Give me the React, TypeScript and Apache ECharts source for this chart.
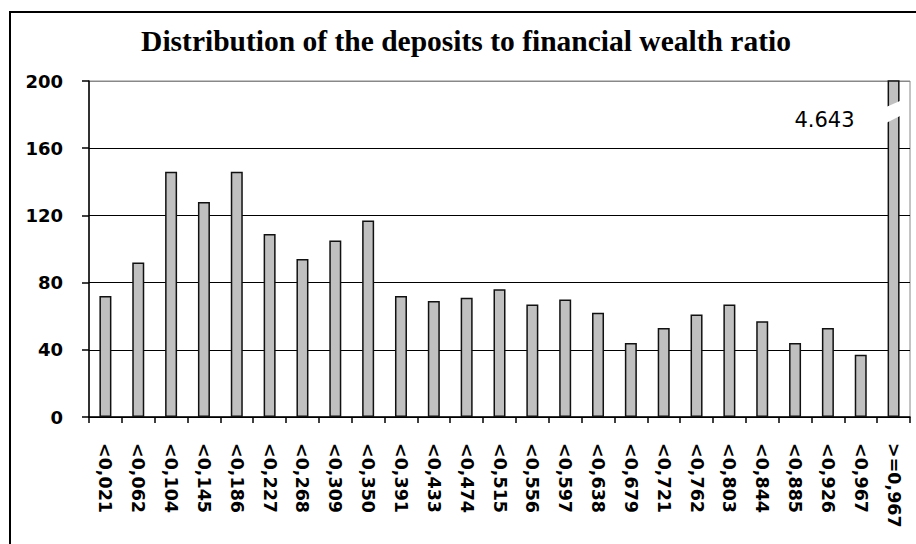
import React, { useEffect, useRef } from "react";
import * as echarts from "echarts";

const titleText = "Distribution of the deposits to financial wealth ratio";

const categories = [
  "<0,021", "<0,062", "<0,104", "<0,145", "<0,186", "<0,227", "<0,268",
  "<0,309", "<0,350", "<0,391", "<0,433", "<0,474", "<0,515", "<0,556",
  "<0,597", "<0,638", "<0,679", "<0,721", "<0,762", "<0,803", "<0,844",
  "<0,885", "<0,926", "<0,967", ">=0,967",
];

const counts = [
  72, 92, 146, 128, 146, 109, 94, 105, 117, 72, 69, 71, 76, 67, 70, 62, 44,
  53, 61, 67, 57, 44, 53, 37, 4643,
];

const yMin = 0;
const yMax = 200;
const yInterval = 40;
const breakValue = 182;

const fmt = (v: number) => String(v).replace(/\B(?=(\d{3})+(?!\d))/g, ".");

export default function App() {
  const ref = useRef<HTMLDivElement>(null);

  useEffect(() => {
    document.body.style.margin = "0";
    if (!ref.current) return;
    const chart = echarts.init(ref.current, undefined, { renderer: "svg" });
    const lastIdx = counts.length - 1;

    const seriesData = counts.map((v, i) =>
      i === lastIdx && v > yMax
        ? {
            value: v,
            label: {
              show: true,
              position: [-33, 40],
              align: "right",
              verticalAlign: "middle",
              formatter: (p: any) => fmt(p.value),
              fontFamily: "DejaVu Sans, Verdana, sans-serif",
              fontSize: 21,
              color: "#000",
            },
          }
        : v
    );

    chart.setOption({
      animation: false,
      backgroundColor: "#fff",
      title: {
        text: titleText,
        left: 461,
        top: 21,
        textAlign: "center",
        textStyle: {
          fontFamily: "Liberation Serif, Times New Roman, serif",
          fontWeight: "bold",
          fontSize: 29.5,
          color: "#000",
        },
      },
      grid: {
        left: 89,
        right: 6,
        top: 81,
        bottom: 127,
        show: true,
        borderColor: "#888",
        borderWidth: 1,
        backgroundColor: "transparent",
      },
      xAxis: {
        type: "category",
        data: categories,
        boundaryGap: true,
        axisLine: { lineStyle: { color: "#000", width: 1.5 } },
        axisTick: { show: true, alignWithLabel: false, length: 6, lineStyle: { color: "#000", width: 1.5 } },
        axisLabel: {
          interval: 0,
          rotate: -90,
          margin: 26,
          color: "#000",
          fontFamily: "DejaVu Sans, Verdana, sans-serif",
          fontWeight: "bold",
          fontSize: 17.5,
        },
      },
      yAxis: {
        type: "value",
        min: yMin,
        max: yMax,
        interval: yInterval,
        axisLine: { show: true, lineStyle: { color: "#000", width: 1.5 } },
        axisTick: { show: true, length: 7, lineStyle: { color: "#000", width: 1.5 } },
        axisLabel: {
          margin: 26,
          color: "#000",
          fontFamily: "DejaVu Sans, Verdana, sans-serif",
          fontWeight: "bold",
          fontSize: 18,
        },
        splitLine: {
          show: true,
          lineStyle: {
            color: ["#000", "#000", "#000", "#000", "#000", "#888"],
            width: 1,
          },
        },
      },
      series: [
        {
          type: "bar",
          data: seriesData,
          barWidth: 12,
          clip: true,
          itemStyle: { color: "#c0c0c0", borderColor: "#111", borderWidth: 1.5 },
        },
      ],
    });

    const c = chart.convertToPixel({ xAxisIndex: 0, yAxisIndex: 0 }, [lastIdx, breakValue]) as number[];
    const cx = c[0];
    const cy = c[1];
    chart.setOption({
      graphic: [
        {
          type: "rect",
          shape: { x: 10, y: 12, width: 1000, height: 1000 },
          style: { fill: "none", stroke: "#000", lineWidth: 2 },
          silent: true,
          z: 100,
        },
        {
          type: "polygon",
          shape: {
            points: [
              [cx - 8, cy - 4],
              [cx + 8, cy - 11],
              [cx + 8, cy + 4],
              [cx - 8, cy + 12],
            ],
          },
          style: { fill: "#fff" },
          silent: true,
          z: 100,
        },
      ],
    });

    return () => chart.dispose();
  }, []);

  return <div ref={ref} style={{ width: 916, height: 544 }} />;
}
